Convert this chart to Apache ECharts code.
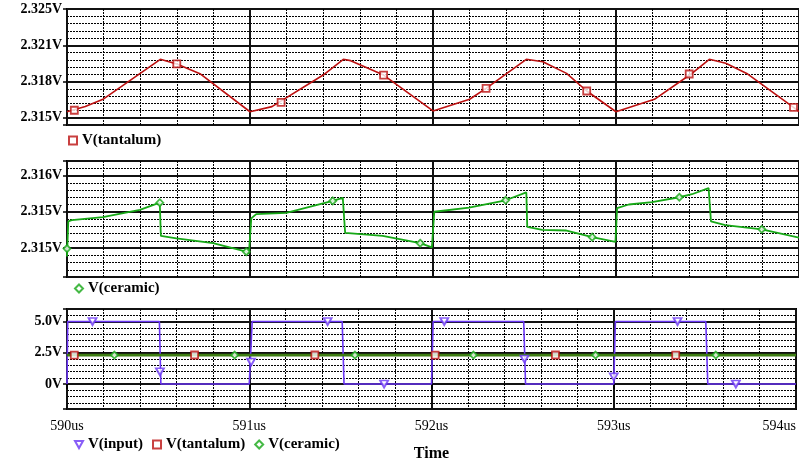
<!DOCTYPE html>
<html>
<head>
<meta charset="utf-8" />
<title></title>
<style type="text/css">
  html, body { margin: 0; padding: 0; background: #fff; }
  #main { width: 799px; height: 463px; }
</style>
<script src="https://cdn.jsdelivr.net/npm/echarts@6/dist/echarts.min.js"></script>
</head>
<body>
<div id="main"></div>
<script type="text/javascript">
// time axis (us)
var timeMin = 590, timeMax = 594;

// V(tantalum), panel 1
var tantTime = [590.00, 590.10, 590.20, 590.51, 590.60, 590.73, 591.00,
                591.12, 591.40, 591.51, 591.55, 591.73, 592.00,
                592.20, 592.29, 592.51, 592.60, 592.73, 592.84, 593.00,
                593.21, 593.41, 593.51, 593.60, 593.72, 593.97, 594.00];
var tantVolt = [2.31553, 2.31600, 2.31666, 2.32016, 2.31975, 2.31886, 2.31553,
                2.31598, 2.31877, 2.32016, 2.32004, 2.31877, 2.31560,
                2.31663, 2.31760, 2.32016, 2.31995, 2.31892, 2.31736, 2.31553,
                2.31663, 2.31886, 2.32016, 2.31981, 2.31886, 2.31592, 2.31555];
var tantMarkTime = [590.04, 590.60, 591.17, 591.73, 592.29, 592.84, 593.40, 593.97];
var tantMarkVolt = [2.31566, 2.31975, 2.31636, 2.31877, 2.31760, 2.31736, 2.31886, 2.31592];

// V(ceramic), panel 2
var cerTime = [590.000, 590.007, 590.026, 590.196, 590.398, 590.507, 590.513, 590.598, 590.798, 590.980, 590.994,
               591.007, 591.034, 591.198, 591.452, 591.507, 591.520, 591.725, 591.930, 591.994,
               592.007, 592.197, 592.397, 592.510, 592.515, 592.597, 592.725, 592.870, 592.997,
               593.006, 593.070, 593.197, 593.346, 593.415, 593.506, 593.519, 593.597, 593.797, 594.000];
var cerVolt = [2.31446, 2.31504, 2.31506, 2.31511, 2.31523, 2.31535, 2.31480, 2.31476, 2.31468, 2.31454, 2.31451,
               2.31509, 2.31516, 2.31518, 2.31538, 2.31543, 2.31485, 2.31480, 2.31468, 2.31461,
               2.31520, 2.31527, 2.31539, 2.31552, 2.31495, 2.31490, 2.31489, 2.31478, 2.31470,
               2.31526, 2.31532, 2.31536, 2.31544, 2.31549, 2.31559, 2.31504, 2.31498, 2.31491, 2.31477];
var cerMarkTime = [590.0, 590.507, 590.98, 591.452, 591.93, 592.397, 592.87, 593.346, 593.797];
var cerMarkVolt = [2.31459, 2.31535, 2.31454, 2.31538, 2.31468, 2.31539, 2.31478, 2.31544, 2.31491];

// V(input), panel 3
var inTime = [590.0, 590.004, 590.507, 590.515, 591.0, 591.016, 591.51, 591.52,
              592.0, 592.009, 592.506, 592.516, 593.0, 593.009, 593.505, 593.516, 594.0];
var inVolt = [0, 5, 5, 0, 0, 5, 5, 0,
              0, 5, 5, 0, 0, 5, 5, 0, 0];
var inMarkTime = [590.14, 590.51, 591.01, 591.43, 591.74, 592.07, 592.51, 593.0, 593.35, 593.67];
var inMarkVolt = [5, 0.98, 1.76, 5, 0, 5, 2.0, 0.57, 5, 0];

// markers of panel 3 for tantalum / ceramic
var tant3MarkTime = [590.04, 590.70, 591.36, 592.02, 592.68, 593.34];
var tant3MarkVolt = [2.3157, 2.3190, 2.3185, 2.3156, 2.3192, 2.3180];
var cer3MarkTime = [590.26, 590.92, 591.58, 592.23, 592.90, 593.56];
var cer3MarkVolt = [2.3151, 2.3146, 2.3148, 2.3153, 2.3147, 2.3150];

// tick labels
var yLabels1 = ['2.315V', '2.318V', '2.321V', '2.325V'];
var yLabels2 = ['2.315V', '2.315V', '2.316V'];
var yLabels3 = ['0V', '2.5V', '5.0V'];

// panel scales: volts -> grid divisions
var base1 = 2.315, step1 = 0.0032;
var base2 = 2.3146, step2 = 0.0006;

var RED = '#bc1010', GREEN = '#16a816', PURPLE = '#6a35f5', OLIVE = '#3d7d12';
var SERIF = '"Liberation Serif", "DejaVu Serif", serif';
var TRI = 'path://M0,0L10,0L5,9Z';

function pairs(ts, vs, base, step) {
  return ts.map(function (t, i) {
    return [t, base == null ? vs[i] : (vs[i] - base) / step];
  });
}

function labelFrom(list, unit) {
  return function (v) {
    var i = Math.round(v / unit);
    if (Math.abs(v / unit - i) > 1e-6 || list[i] == null) return '';
    return list[i];
  };
}

var minorLine = { show: true, lineStyle: { color: '#000', width: 1, type: [2, 1] } };
var majorLine = { show: true, lineStyle: { color: '#111', width: 2 } };

function xAxisFor(gi, withLabels) {
  return {
    type: 'value', gridIndex: gi, min: timeMin, max: timeMax, interval: 1,
    axisLine: { show: false },
    axisTick: { show: withLabels, length: 5, lineStyle: { color: '#000', width: 2 } },
    axisLabel: {
      show: withLabels, margin: 10, color: '#000', fontFamily: SERIF, fontSize: 14,
      formatter: function (v) { return v + 'us'; }, alignMaxLabel: 'right'
    },
    splitLine: majorLine,
    minorTick: { show: false, splitNumber: 5 },
    minorSplitLine: minorLine,
    name: withLabels ? 'Time' : '',
    nameLocation: 'middle', nameGap: 37,
    nameTextStyle: { color: '#000', fontFamily: SERIF, fontWeight: 'bold', fontSize: 16 }
  };
}

function yAxisFor(gi, min, max, unit, labels) {
  return {
    type: 'value', gridIndex: gi, min: min, max: max,
    minInterval: unit, maxInterval: unit, splitNumber: 3,
    axisLine: { show: false },
    axisTick: { show: true, length: 4, lineStyle: { color: '#000', width: 1.5 } },
    axisLabel: {
      margin: 5, color: '#000', fontFamily: SERIF, fontWeight: 'bold', fontSize: 14,
      formatter: labelFrom(labels, unit)
    },
    splitLine: majorLine,
    minorTick: { show: false, splitNumber: 5 },
    minorSplitLine: minorLine
  };
}

function markers(name, data, xi, symbol, color, size) {
  return {
    name: name, type: 'scatter', xAxisIndex: xi, yAxisIndex: xi, data: data,
    symbol: symbol, symbolSize: size, z: 5,
    itemStyle: { color: '#fff', borderColor: color, borderWidth: 1.8 }
  };
}

function trace(name, data, xi, color, width) {
  return {
    name: name, type: 'line', xAxisIndex: xi, yAxisIndex: xi, data: data,
    symbol: 'none', z: 3, lineStyle: { color: color, width: width }, itemStyle: { color: color }
  };
}

var legendText = { color: '#000', fontFamily: SERIF, fontWeight: 'bold', fontSize: 15 };

var option = {
  animation: false,
  backgroundColor: '#fff',
  grid: [
    { left: 67, top: 9, width: 732, height: 116, show: true, borderColor: '#000', borderWidth: 2 },
    { left: 67, top: 161, width: 732, height: 116, show: true, borderColor: '#000', borderWidth: 2 },
    { left: 67, top: 309, width: 732, height: 103, show: true, borderColor: '#000', borderWidth: 2 }
  ],
  legend: [
    { data: ['V(tantalum)'], left: 63, top: 128, itemWidth: 8, itemHeight: 8, selectedMode: false, textStyle: legendText },
    { data: ['V(ceramic)'], left: 69, top: 276, itemWidth: 8, itemHeight: 8, selectedMode: false, textStyle: legendText },
    { data: ['V(input)', 'V(tantalum)', 'V(ceramic)'], left: 69, top: 432, itemWidth: 8, itemHeight: 8, itemGap: 9,
      selectedMode: false, textStyle: legendText }
  ],
  xAxis: [xAxisFor(0, false), xAxisFor(1, false), xAxisFor(2, true)],
  yAxis: [
    yAxisFor(0, -0.2, 3, 1, yLabels1),
    yAxisFor(1, -0.8, 2.4, 1, yLabels2),
    yAxisFor(2, -2, 6, 2.5, yLabels3)
  ],
  series: [
    markers('V(tantalum)', pairs(tantMarkTime, tantMarkVolt, base1, step1), 0, 'rect', RED, 7),
    trace('V(tantalum)', pairs(tantTime, tantVolt, base1, step1), 0, RED, 1.6),
    markers('V(ceramic)', pairs(cerMarkTime, cerMarkVolt, base2, step2), 1, 'diamond', GREEN, 7),
    trace('V(ceramic)', pairs(cerTime, cerVolt, base2, step2), 1, GREEN, 1.8),
    markers('V(input)', pairs(inMarkTime, inMarkVolt), 2, TRI, PURPLE, [8, 7]),
    trace('V(input)', pairs(inTime, inVolt), 2, PURPLE, 1.6),
    trace('V(tantalum)', pairs(tantTime, tantVolt), 2, RED, 1.6),
    trace('V(ceramic)', pairs(cerTime, cerVolt), 2, OLIVE, 2.8),
    markers('V(tantalum)', pairs(tant3MarkTime, tant3MarkVolt), 2, 'rect', RED, 7),
    markers('V(ceramic)', pairs(cer3MarkTime, cer3MarkVolt), 2, 'diamond', GREEN, 7)
  ]
};

var myChart = echarts.init(document.getElementById('main'));
myChart.setOption(option);
</script>
</body>
</html>
